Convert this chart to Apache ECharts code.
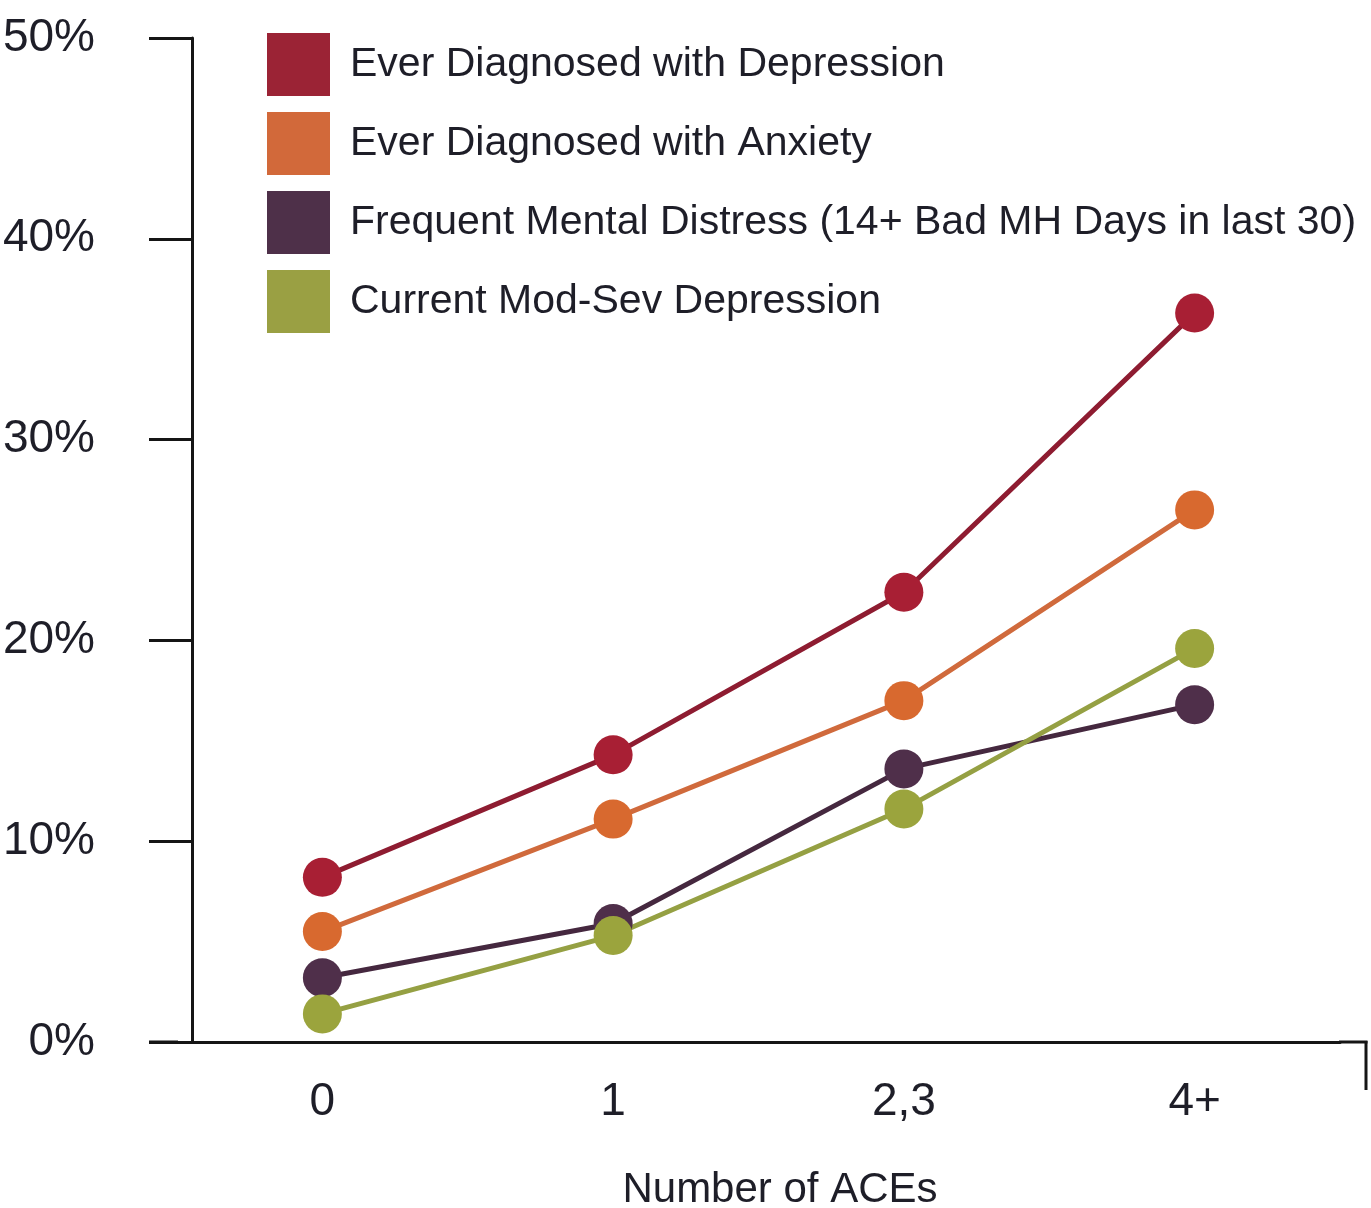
<!DOCTYPE html>
<html>
<head>
<meta charset="utf-8">
<script src="https://cdn.jsdelivr.net/npm/echarts@6/dist/echarts.min.js"></script>
<style>
html,body{margin:0;padding:0;background:#fff;overflow:hidden;}
#chart{width:1371px;height:1208px;}
</style>
</head>
<body>
<div id="chart"></div>
<script>
const categories = ['0', '1', '2,3', '4+'];
const seriesNames = [
  'Ever Diagnosed with Depression',
  'Ever Diagnosed with Anxiety',
  'Frequent Mental Distress (14+ Bad MH Days in last 30)',
  'Current Mod-Sev Depression'
];
const everDepression = [8.2, 14.3, 22.4, 36.3];
const everAnxiety = [5.5, 11.1, 17.0, 26.5];
const frequentDistress = [3.2, 5.9, 13.6, 16.8];
const currentModSev = [1.4, 5.3, 11.6, 19.6];
const yTicks = [0, 10, 20, 30, 40, 50];

const FONT = '"Liberation Sans Narrow", "Arial Narrow", "Liberation Sans", Arial, sans-serif';
const lineColors = ['#8e1c31', '#d06a3c', '#45283f', '#95a043'];
const markColors = ['#a81f34', '#d8692f', '#4f2f4a', '#9ba43d'];
const legendColors = ['#9b2335', '#d2693a', '#4e3049', '#9aa043'];
const values = [everDepression, everAnxiety, frequentDistress, currentModSev];
const AXIS_COLOR = '#151515';

const chart = echarts.init(document.getElementById('chart'), null, {renderer: 'canvas'});
chart.setOption({
  animation: false,
  backgroundColor: '#ffffff',
  grid: {left: 177, right: 31, top: 38, bottom: 166, containLabel: false, outerBoundsMode: 'none'},
  legend: {
    orient: 'vertical',
    left: 267,
    top: 33,
    padding: 0,
    itemWidth: 63,
    itemHeight: 63,
    itemGap: 16,
    icon: 'rect',
    selectedMode: false,
    data: seriesNames.map((n, i) => ({name: n, itemStyle: {color: legendColors[i]}})),
    textStyle: {fontFamily: FONT, fontSize: 41, color: '#1e1e28', padding: [0, 0, 0, 15]}
  },
  xAxis: {
    type: 'category',
    data: categories,
    boundaryGap: true,
    axisLine: {show: true, lineStyle: {color: AXIS_COLOR, width: 3}},
    axisTick: {show: false},
    axisLabel: {fontFamily: FONT, fontSize: 46, color: '#1e1e28', margin: 37},
    name: 'Number of ACEs',
    nameLocation: 'middle',
    nameGap: 127,
    nameTextStyle: {fontFamily: FONT, fontSize: 42, color: '#1e1e28', padding: [0, 0, 0, 43]}
  },
  yAxis: {
    type: 'value',
    min: yTicks[0],
    max: yTicks[yTicks.length - 1],
    interval: yTicks[1] - yTicks[0],
    offset: -15,
    axisLine: {show: true, lineStyle: {color: AXIS_COLOR, width: 3}},
    axisTick: {show: true, length: 43, lineStyle: {color: AXIS_COLOR, width: 3}},
    splitLine: {show: false},
    axisLabel: {fontFamily: FONT, fontSize: 46, color: '#1e1e28', margin: 97, padding: [0, 0, 18, 0], formatter: '{value}%'}
  },
  graphic: [
    {type: 'line', shape: {x1: 149, y1: 1042, x2: 178, y2: 1042}, style: {stroke: AXIS_COLOR, lineWidth: 3}},
    {type: 'line', shape: {x1: 1339, y1: 1042, x2: 1367.5, y2: 1042}, style: {stroke: AXIS_COLOR, lineWidth: 3}},
    {type: 'line', shape: {x1: 1366, y1: 1041, x2: 1366, y2: 1090}, style: {stroke: AXIS_COLOR, lineWidth: 3}}
  ],
  series: seriesNames.map((n, i) => ({
    name: n,
    type: 'line',
    data: values[i],
    symbol: 'circle',
    symbolSize: 39,
    showSymbol: true,
    lineStyle: {color: lineColors[i], width: 5},
    itemStyle: {color: markColors[i]},
    emphasis: {disabled: true}
  }))
});
</script>
</body>
</html>
